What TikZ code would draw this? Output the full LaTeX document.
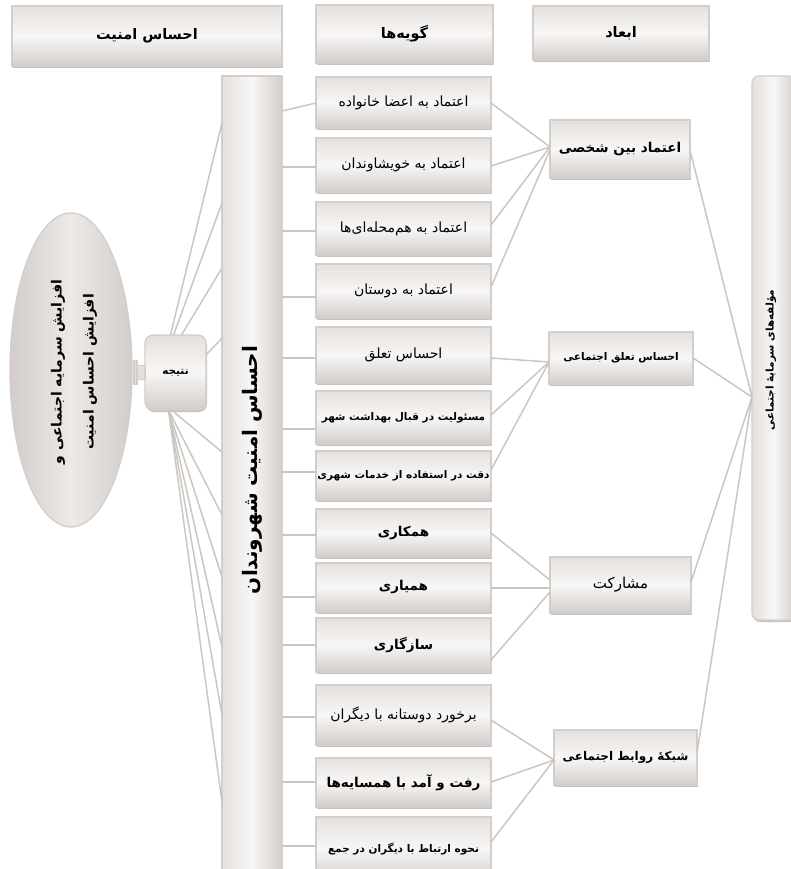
\documentclass[tikz,border=0pt]{standalone}
\usepackage{fontspec}
\newfontfamily\fa[Script=Arabic]{DejaVu Sans}
\TeXXeTstate=1
\usetikzlibrary{shapes.geometric,shadows}
\definecolor{lnc}{RGB}{204,198,193}
\definecolor{bdc}{RGB}{212,206,202}
\definecolor{fdark}{RGB}{210,205,202}
\definecolor{fmid}{RGB}{228,224,221}
\definecolor{flight}{RGB}{248,247,246}
\definecolor{shc}{RGB}{150,146,143}
\newcommand\rtl[1]{\beginR #1\endR}
\tikzset{
  box/.style={draw=bdc, line width=1.3pt, top color=fmid, bottom color=fdark, middle color=flight,
    inner sep=0pt, outer sep=0pt, text=black,
    drop shadow={shadow xshift=1pt, shadow yshift=-2pt, fill=shc, opacity=0.55}},
  vbar/.style={box, left color=fmid, right color=fdark, middle color=flight},
  conn/.style={draw=lnc, line width=1.5pt},
  freg/.style={font=\fa\fontsize{14}{16}\selectfont},
  fbold/.style={font=\fa\bfseries\fontsize{13.5}{16}\selectfont},
  fsmall/.style={font=\fa\bfseries\fontsize{10.5}{13}\selectfont},
  item/.style={box, minimum width=175pt},
}
\begin{document}
\begin{tikzpicture}[x=1pt,y=-1pt]
\useasboundingbox (0,0) rectangle (790,869);
% headers
\node[box, font=\fa\bfseries\fontsize{14.5}{17}\selectfont, minimum width=270pt, minimum height=60pt] (hsec) at (147,36) {\rtl{احساس امنیت}};
\node[box, font=\fa\bfseries\fontsize{14.5}{17}\selectfont, minimum width=177pt, minimum height=58pt] (hitems) at (404.5,34) {\rtl{گویه‌ها}};
\node[box, font=\fa\bfseries\fontsize{14.5}{17}\selectfont, minimum width=176pt, minimum height=54pt] (hdim) at (621,33) {\rtl{ابعاد}};
% tall bar
\node[vbar, minimum width=60pt, minimum height=810pt] (bar) at (252,481) {};
\node[rotate=90, font=\fa\bfseries\fontsize{20}{24}\selectfont] (barT) at (252,470) {\rtl{احساس امنیت شهروندان}};
% right bar
\node[vbar, rounded corners=7pt, minimum width=44pt, minimum height=544pt] (rbar) at (774,348) {};
\node[rotate=90, font=\fa\bfseries\fontsize{10.5}{13}\selectfont] (rbarT) at (771,360) {\rtl{مؤلفه‌های سرمایهٔ اجتماعی}};
% ellipse
\node[ellipse, draw=bdc, line width=1.3pt, left color=fdark, right color=fdark, middle color=fmid!60!flight,
  minimum width=122pt, minimum height=314pt, inner sep=0pt] (ell) at (71,370) {};
\node[rotate=90, align=center, font=\fa\bfseries\fontsize{14}{32}\selectfont] (ellT) at (74,372)
  {\rtl{افزایش سرمایه اجتماعی و}\\\rtl{افزایش احساس امنیت}};
% result
\node[box, rounded corners=8pt, fsmall, minimum width=61pt, minimum height=75pt] (res) at (175.5,372.5) {\rtl{نتیجه}};
\draw[draw=bdc, line width=1.2pt, fill=fmid] ([xshift=-8pt,yshift=-7pt]res.west) rectangle ([yshift=7pt]res.west);
\draw[draw=bdc, line width=1.2pt, fill=fmid] ([xshift=-11pt,yshift=-12pt]res.west) rectangle ([xshift=-8pt,yshift=12pt]res.west);
% items
\node[item, freg, minimum height=51pt] (i1) at (403.5,102.5) {\rtl{اعتماد به اعضا خانواده}};
\node[item, freg, minimum height=54pt] (i2) at (403.5,165) {\rtl{اعتماد به خویشاوندان}};
\node[item, freg, minimum height=53pt] (i3) at (403.5,228.5) {\rtl{اعتماد به هم‌محله‌ای‌ها}};
\node[item, freg, minimum height=54pt] (i4) at (403.5,291) {\rtl{اعتماد به دوستان}};
\node[item, freg, minimum height=56pt] (i5) at (403.5,355) {\rtl{احساس تعلق}};
\node[item, fsmall, minimum height=53pt] (i6) at (403.5,417.5) {\rtl{مسئولیت در قبال بهداشت شهر}};
\node[item, fsmall, minimum height=49pt] (i7) at (403.5,475.5) {\rtl{دقت در استفاده از خدمات شهری}};
\node[item, fbold, minimum height=48pt] (i8) at (403.5,533) {\rtl{همکاری}};
\node[item, fbold, minimum height=49pt] (i9) at (403.5,587.5) {\rtl{همیاری}};
\node[item, fbold, minimum height=54pt] (i10) at (403.5,645) {\rtl{سازگاری}};
\node[item, freg, minimum height=60pt] (i11) at (403.5,715) {\rtl{برخورد دوستانه با دیگران}};
\node[item, fbold, minimum height=49pt] (i12) at (403.5,782.5) {\rtl{رفت و آمد با همسایه‌ها}};
\node[item, fsmall, minimum height=63pt] (i13) at (403.5,848.5) {\rtl{نحوه ارتباط با دیگران در جمع}};
% dimensions
\node[box, fbold, minimum width=140pt, minimum height=58pt] (d1) at (620,149) {\rtl{اعتماد بین شخصی}};
\node[box, fsmall, minimum width=144pt, minimum height=52pt] (d2) at (621,358) {\rtl{احساس تعلق اجتماعی}};
\node[box, font=\fa\fontsize{15}{17}\selectfont, minimum width=141pt, minimum height=56pt] (d3) at (620.5,585) {\rtl{مشارکت}};
\node[box, font=\fa\bfseries\fontsize{12}{14}\selectfont, minimum width=143pt, minimum height=55pt] (d4) at (625.5,757.5) {\rtl{شبکهٔ روابط اجتماعی}};
% bar -> items
\draw[conn] (bar.east |- 0,111) -- (i1.west |- 0,103);
\foreach \n/\yy in {i2/167,i3/231,i4/297,i5/358,i6/429,i7/472,i8/535,i9/597,i10/645,i11/717,i12/782,i13/846}
  \draw[conn] (bar.east |- 0,\yy) -- (\n.west |- 0,\yy);
% items -> dimensions
\foreach \n/\ya/\yb in {i1/103/147,i2/166/147,i3/225/147,i4/287/150}
  \draw[conn] (\n.east |- 0,\ya) -- (d1.west |- 0,\yb);
\foreach \n/\ya/\yb in {i5/358/362,i6/415/362,i7/470/362}
  \draw[conn] (\n.east |- 0,\ya) -- (d2.west |- 0,\yb);
\foreach \n/\ya/\yb in {i8/533/580,i9/588/588,i10/660/592}
  \draw[conn] (\n.east |- 0,\ya) -- (d3.west |- 0,\yb);
\foreach \n/\ya/\yb in {i11/720/760,i12/782/760,i13/842/760}
  \draw[conn] (\n.east |- 0,\ya) -- (d4.west |- 0,\yb);
% dimensions -> right bar
\coordinate (rc) at (rbar.west |- 0,397);
\draw[conn] (d1.east |- 0,150) -- (rc);
\draw[conn] (d2.east) -- (rc);
\draw[conn] (d3.east |- 0,582) -- (rc);
\draw[conn] (d4.east |- 0,753) -- (rc);
% result -> bar
\draw[conn] ([xshift=-5pt]res.north) -- (bar.west |- 0,123);
\draw[conn] ([xshift=-2pt]res.north) -- (bar.west |- 0,203);
\draw[conn] ([xshift=6pt]res.north) -- (bar.west |- 0,268);
\draw[conn] ([yshift=-20pt]res.north east) -- (bar.west |- 0,338);
\draw[conn] ([xshift=-4pt]res.south) -- (bar.west |- 0,452);
\foreach \yy in {515,577,647,715,802}
  \draw[conn] ([xshift=-7pt]res.south) -- (bar.west |- 0,\yy);
\end{tikzpicture}
\end{document}
